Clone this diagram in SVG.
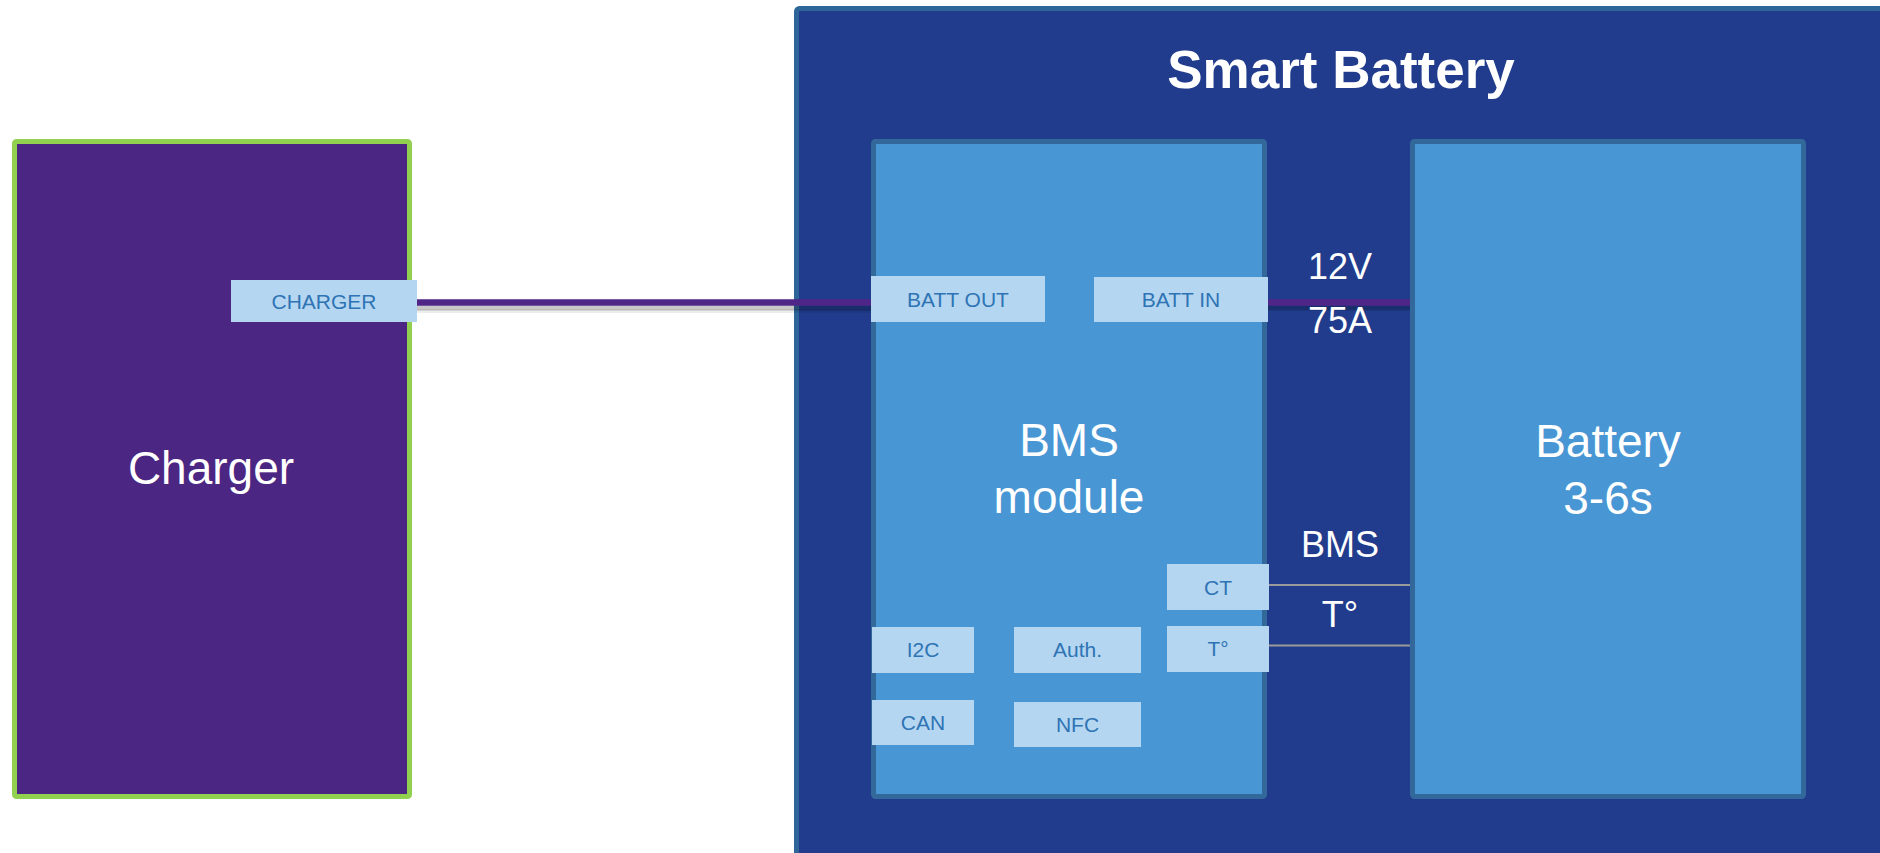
<svg xmlns="http://www.w3.org/2000/svg" width="1880" height="853" viewBox="0 0 1880 853">
<defs>
<style>
.big{font-family:"Liberation Sans",Arial,sans-serif;fill:#ffffff;text-anchor:middle}
.small{font-family:"Liberation Sans",Arial,sans-serif;font-size:21px;fill:#2e74b5;text-anchor:middle}
.block{fill:#4896d4;stroke:#33699a;stroke-width:5}
.port{fill:#b5d6f0}
.power{stroke:#4f2587;stroke-width:6.5;fill:none}
.shadow{stroke:#000;stroke-opacity:0.22;stroke-width:5;fill:none}
.shadow2{stroke:#000;stroke-opacity:0.07;stroke-width:4;fill:none}
.sense{stroke:#9a9a9a;stroke-width:2;fill:none}
</style>
</defs>
<rect width="1880" height="853" fill="#ffffff"/>

<g id="smart-battery">
<rect x="796.5" y="8.5" width="1100" height="860" rx="3" fill="#213c8c" stroke="#2f6699" stroke-width="5"/>
<text class="big" x="1341" y="88" font-size="53" font-weight="bold">Smart Battery</text>
</g>

<g id="charger">
<rect x="14.5" y="141.5" width="395" height="655" rx="2" fill="#4c2683" stroke="#92d050" stroke-width="5"/>
<text class="big" x="211" y="484" font-size="46">Charger</text>
</g>

<g id="bms-module">
<rect class="block" x="873.5" y="141.5" width="391" height="655" rx="2"/>
<text class="big" x="1069" y="456" font-size="46">BMS</text>
<text class="big" x="1069" y="513" font-size="46">module</text>
</g>

<g id="battery">
<rect class="block" x="1412.5" y="141.5" width="391" height="655" rx="2"/>
<text class="big" x="1608" y="457" font-size="46">Battery</text>
<text class="big" x="1608" y="514" font-size="46">3-6s</text>
</g>

<g id="connectors">
<line class="shadow2" x1="417" y1="311" x2="871" y2="311"/>
<line class="shadow" x1="417" y1="308" x2="871" y2="308"/>
<line class="power" x1="417" y1="302.5" x2="871" y2="302.5"/>
<line class="shadow" x1="1268" y1="308" x2="1410" y2="308"/>
<line class="power" x1="1268" y1="302.5" x2="1410" y2="302.5"/>
<line class="sense" x1="1269" y1="585" x2="1410" y2="585"/>
<line class="sense" x1="1269" y1="645.5" x2="1410" y2="645.5"/>
<text class="big" x="1340" y="279" font-size="36">12V</text>
<text class="big" x="1340" y="333" font-size="36">75A</text>
<text class="big" x="1340" y="557" font-size="36">BMS</text>
<text class="big" x="1340" y="627" font-size="36">T°</text>
</g>

<g id="port-charger">
<rect class="port" x="231" y="280" width="186" height="42"/>
<text class="small" x="324" y="308.5">CHARGER</text>
</g>
<g id="port-batt-out">
<rect class="port" x="871" y="276" width="174" height="46"/>
<text class="small" x="958" y="306.5">BATT OUT</text>
</g>
<g id="port-batt-in">
<rect class="port" x="1094" y="277" width="174" height="45"/>
<text class="small" x="1181" y="306.5">BATT IN</text>
</g>
<g id="port-ct">
<rect class="port" x="1167" y="564" width="102" height="46"/>
<text class="small" x="1218" y="594.5">CT</text>
</g>
<g id="port-temp">
<rect class="port" x="1167" y="626" width="102" height="46"/>
<text class="small" x="1218" y="656">T°</text>
</g>
<g id="port-i2c">
<rect class="port" x="872" y="627" width="102" height="46"/>
<text class="small" x="923" y="657">I2C</text>
</g>
<g id="port-auth">
<rect class="port" x="1014" y="627" width="127" height="46"/>
<text class="small" x="1077.5" y="657">Auth.</text>
</g>
<g id="port-can">
<rect class="port" x="872" y="700" width="102" height="45"/>
<text class="small" x="923" y="730">CAN</text>
</g>
<g id="port-nfc">
<rect class="port" x="1014" y="702" width="127" height="45"/>
<text class="small" x="1077.5" y="732">NFC</text>
</g>
</svg>
